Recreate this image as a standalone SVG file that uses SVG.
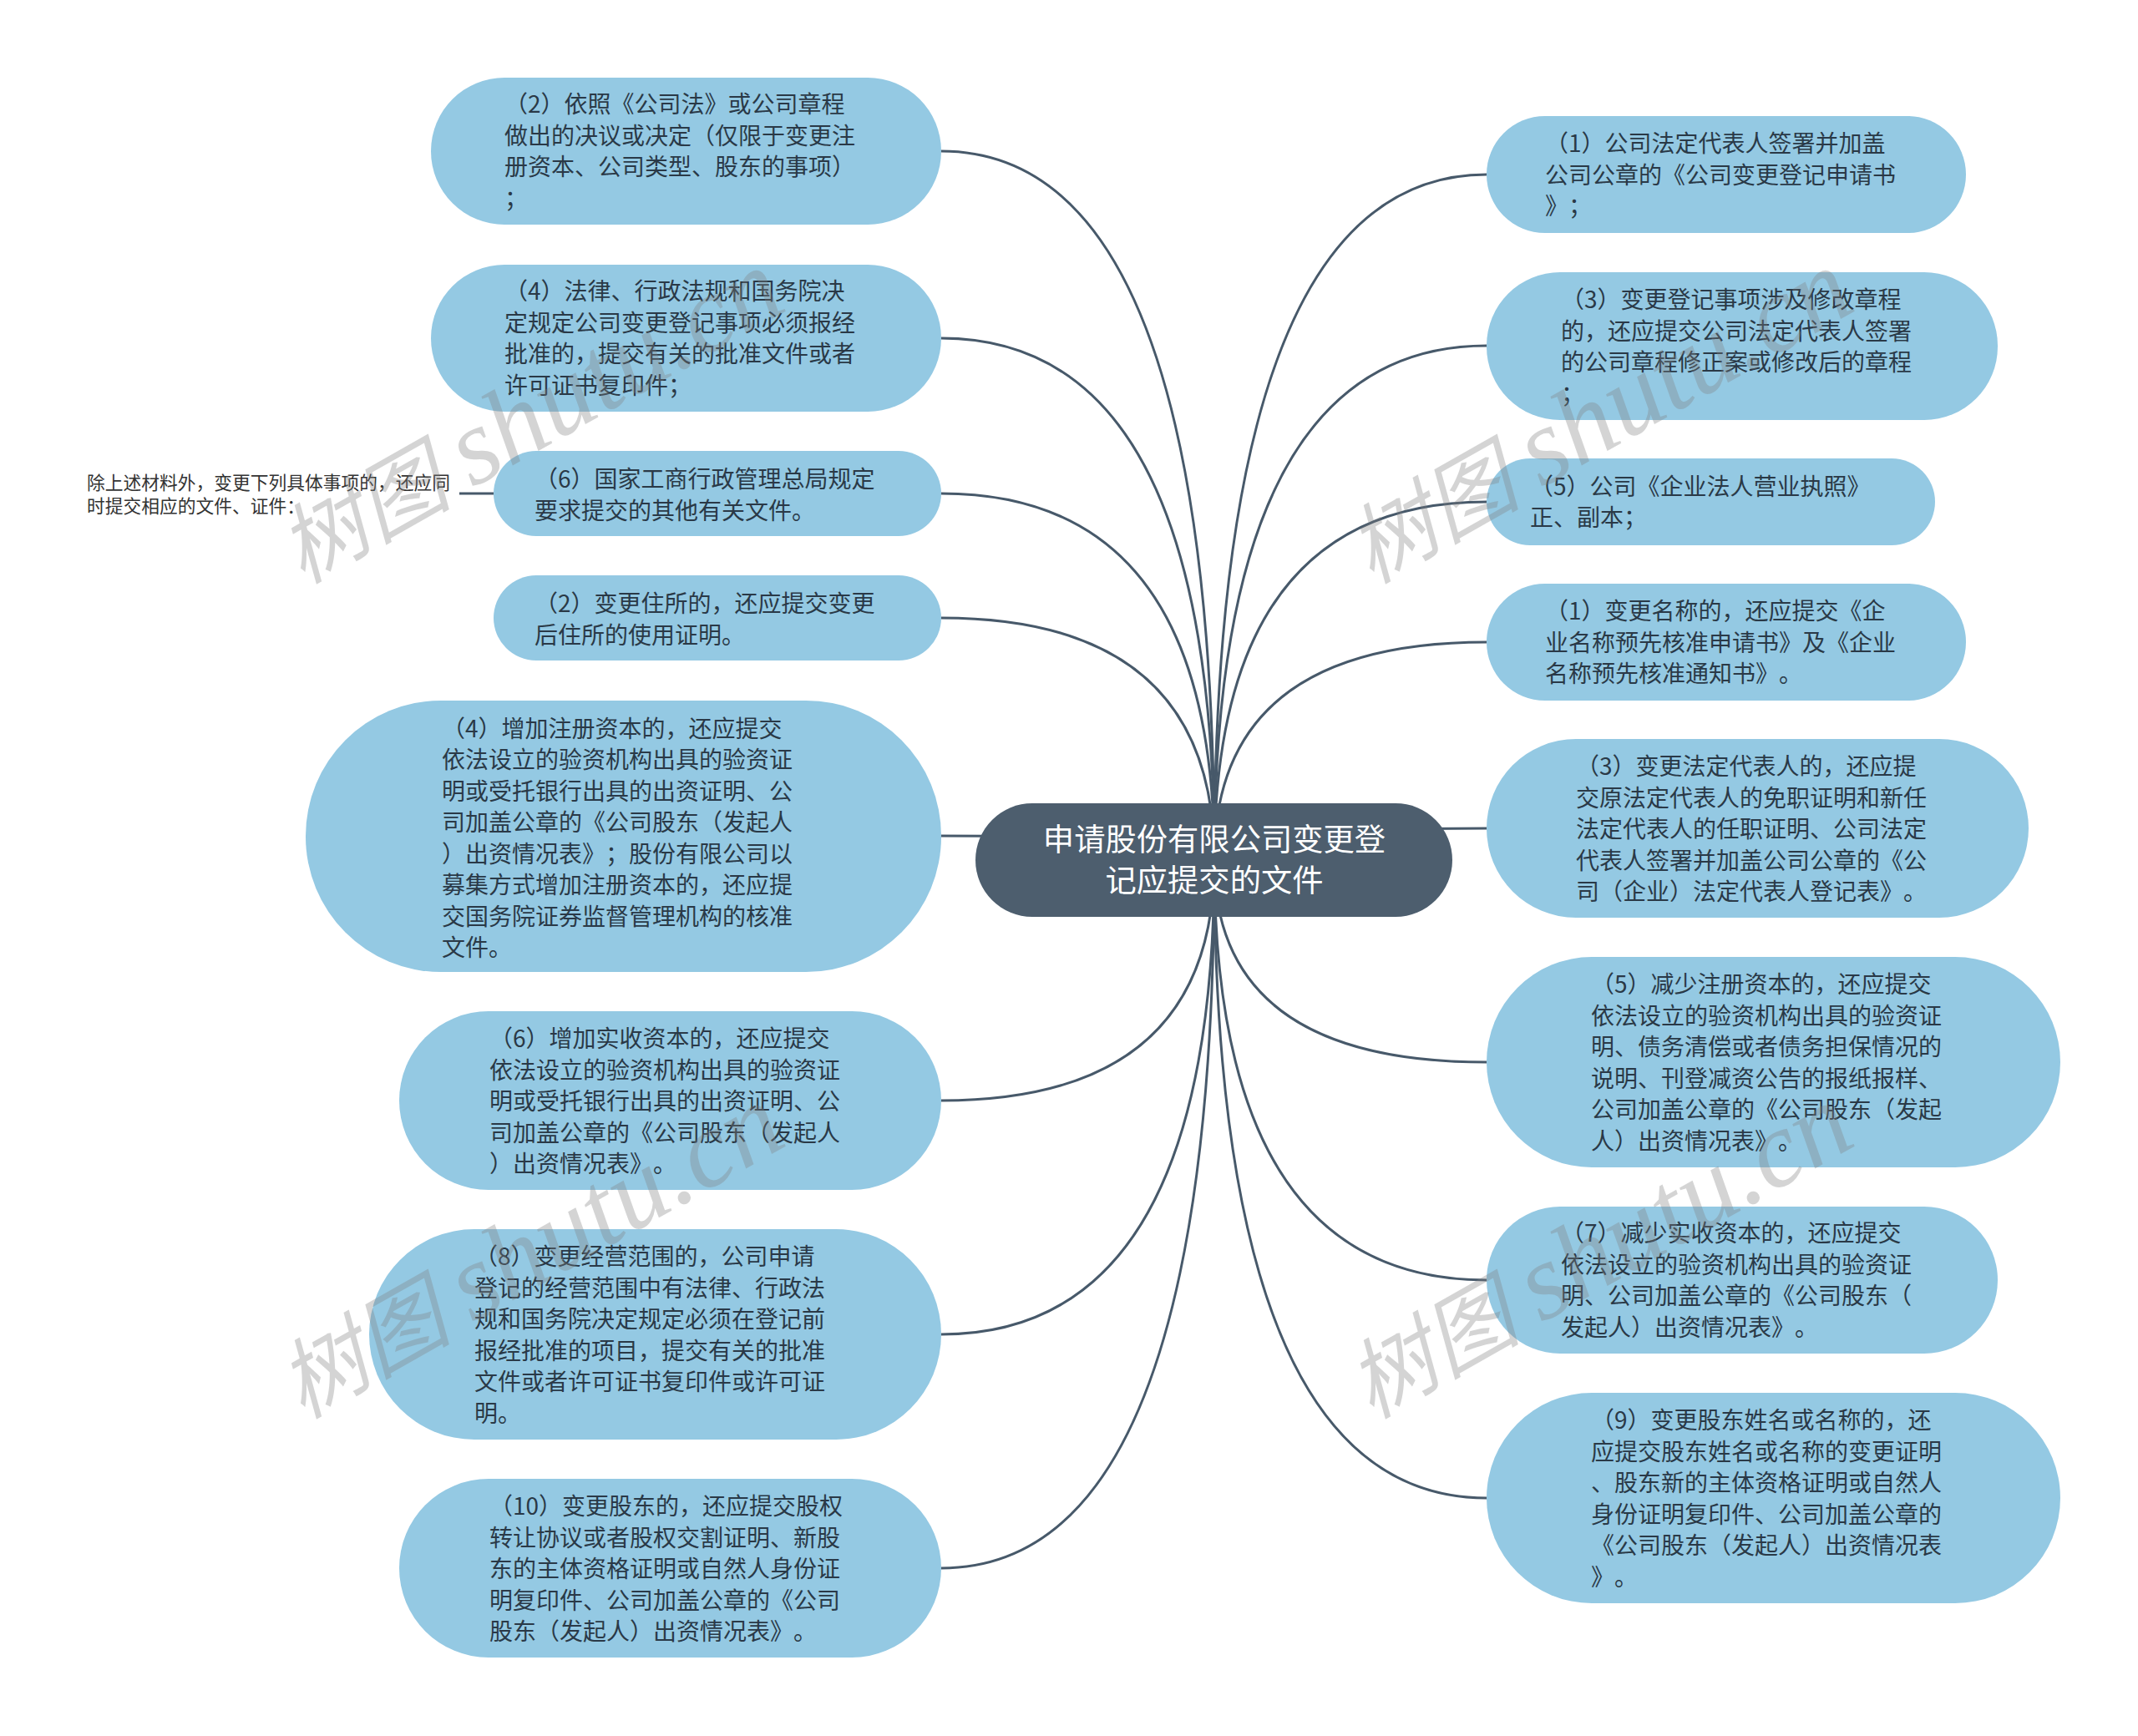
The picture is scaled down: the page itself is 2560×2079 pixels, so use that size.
<svg xmlns="http://www.w3.org/2000/svg" width="2560" height="2079" viewBox="0 0 2560 2079">
<style>
text{font-family:"Noto Sans CJK SC","Noto Sans",sans-serif;text-spacing-trim:space-all}
.n rect{fill:#94c9e3}
.n text{font-size:28px;fill:#2a3947;transform:translateY(-.5px)}
.c{fill:none;stroke:#47596a;stroke-width:3}
.w{font-family:"Liberation Serif","Noto Sans CJK SC",serif;font-style:italic;font-size:104px;fill:#808080;opacity:.33}
.w tspan{font-size:130px}
</style>
<rect width="2560" height="2079" fill="#fff"/>
<g id="connectors">
<path class="c" d="M1454 1030Q1454 181 1127 181"/>
<path class="c" d="M1454 1030Q1454 405 1127 405"/>
<path class="c" d="M1454 1030Q1454 591 1127 591"/>
<path class="c" d="M1454 1030Q1454 740 1127 740"/>
<path class="c" d="M1454 1030Q1454 1001 1127 1001"/>
<path class="c" d="M1454 1030Q1454 1318 1127 1318"/>
<path class="c" d="M1454 1030Q1454 1598 1127 1598"/>
<path class="c" d="M1454 1030Q1454 1878 1127 1878"/>
<path class="c" d="M1454 1030Q1454 209 1780 209"/>
<path class="c" d="M1454 1030Q1454 414 1780 414"/>
<path class="c" d="M1454 1030Q1454 601 1780 601"/>
<path class="c" d="M1454 1030Q1454 769 1780 769"/>
<path class="c" d="M1454 1030Q1454 992 1780 992"/>
<path class="c" d="M1454 1030Q1454 1272 1780 1272"/>
<path class="c" d="M1454 1030Q1454 1533 1780 1533"/>
<path class="c" d="M1454 1030Q1454 1794 1780 1794"/>
<path class="c" d="M550 591H591"/>
</g>
<g id="center"><rect x="1168" y="962" width="571" height="136" rx="68" fill="#4d5e6e"/>
<text x="1454" y="1019" font-size="37.3" fill="#fff" text-anchor="middle">申请股份有限公司变更登</text>
<text x="1454" y="1068" font-size="37.3" fill="#fff" text-anchor="middle">记应提交的文件</text></g>
<g id="note"><text font-size="21.75" fill="#333"><tspan x="104" y="586">除上述材料外，变更下列具体事项的，还应同</tspan><tspan x="104" y="614">时提交相应的文件、证件：</tspan></text></g>
<g id="L1" class="n"><rect x="516" y="93" width="611" height="176" rx="88"/><text><tspan x="604" y="135.500">（2）依照《公司法》或公司章程</tspan><tspan x="604" y="173">做出的决议或决定（仅限于变更注</tspan><tspan x="604" y="210.500">册资本、公司类型、股东的事项）</tspan><tspan x="604" y="248">；</tspan></text></g>
<g id="L2" class="n"><rect x="516" y="317" width="611" height="176" rx="88"/><text><tspan x="604" y="359.500">（4）法律、行政法规和国务院决</tspan><tspan x="604" y="397">定规定公司变更登记事项必须报经</tspan><tspan x="604" y="434.500">批准的，提交有关的批准文件或者</tspan><tspan x="604" y="472">许可证书复印件；</tspan></text></g>
<g id="L3" class="n"><rect x="591" y="540" width="536" height="102" rx="51"/><text><tspan x="640" y="584.500">（6）国家工商行政管理总局规定</tspan><tspan x="640" y="622">要求提交的其他有关文件。</tspan></text></g>
<g id="L4" class="n"><rect x="591" y="689" width="536" height="102" rx="51"/><text><tspan x="640" y="733.500">（2）变更住所的，还应提交变更</tspan><tspan x="640" y="771">后住所的使用证明。</tspan></text></g>
<g id="L5" class="n"><rect x="366" y="839" width="761" height="325" rx="162"/><text><tspan x="529" y="883">（4）增加注册资本的，还应提交</tspan><tspan x="529" y="920.500">依法设立的验资机构出具的验资证</tspan><tspan x="529" y="958">明或受托银行出具的出资证明、公</tspan><tspan x="529" y="995.500">司加盖公章的《公司股东（发起人</tspan><tspan x="529" y="1033">）出资情况表》；股份有限公司以</tspan><tspan x="529" y="1070.500">募集方式增加注册资本的，还应提</tspan><tspan x="529" y="1108">交国务院证券监督管理机构的核准</tspan><tspan x="529" y="1145.500">文件。</tspan></text></g>
<g id="L6" class="n"><rect x="478" y="1211" width="649" height="214" rx="107"/><text><tspan x="586" y="1254.500">（6）增加实收资本的，还应提交</tspan><tspan x="586" y="1292">依法设立的验资机构出具的验资证</tspan><tspan x="586" y="1329.500">明或受托银行出具的出资证明、公</tspan><tspan x="586" y="1367">司加盖公章的《公司股东（发起人</tspan><tspan x="586" y="1404.500">）出资情况表》。</tspan></text></g>
<g id="L7" class="n"><rect x="442" y="1472" width="685" height="252" rx="126"/><text><tspan x="568" y="1515.500">（8）变更经营范围的，公司申请</tspan><tspan x="568" y="1553">登记的经营范围中有法律、行政法</tspan><tspan x="568" y="1590.500">规和国务院决定规定必须在登记前</tspan><tspan x="568" y="1628">报经批准的项目，提交有关的批准</tspan><tspan x="568" y="1665.500">文件或者许可证书复印件或许可证</tspan><tspan x="568" y="1703">明。</tspan></text></g>
<g id="L8" class="n"><rect x="478" y="1771" width="649" height="214" rx="107"/><text><tspan x="586" y="1814.500">（10）变更股东的，还应提交股权</tspan><tspan x="586" y="1852">转让协议或者股权交割证明、新股</tspan><tspan x="586" y="1889.500">东的主体资格证明或自然人身份证</tspan><tspan x="586" y="1927">明复印件、公司加盖公章的《公司</tspan><tspan x="586" y="1964.500">股东（发起人）出资情况表》。</tspan></text></g>
<g id="R1" class="n"><rect x="1780" y="139" width="574" height="140" rx="70"/><text><tspan x="1850" y="182.500">（1）公司法定代表人签署并加盖</tspan><tspan x="1850" y="220">公司公章的《公司变更登记申请书</tspan><tspan x="1850" y="257.500">》；</tspan></text></g>
<g id="R2" class="n"><rect x="1780" y="326" width="612" height="177" rx="88"/><text><tspan x="1869" y="369.500">（3）变更登记事项涉及修改章程</tspan><tspan x="1869" y="407">的，还应提交公司法定代表人签署</tspan><tspan x="1869" y="444.500">的公司章程修正案或修改后的章程</tspan><tspan x="1869" y="482">；</tspan></text></g>
<g id="R3" class="n"><rect x="1780" y="549" width="537" height="104" rx="52"/><text><tspan x="1832" y="593">（5）公司《企业法人营业执照》</tspan><tspan x="1832" y="630.500">正、副本；</tspan></text></g>
<g id="R4" class="n"><rect x="1780" y="699" width="574" height="140" rx="70"/><text><tspan x="1850" y="742.500">（1）变更名称的，还应提交《企</tspan><tspan x="1850" y="780">业名称预先核准申请书》及《企业</tspan><tspan x="1850" y="817.500">名称预先核准通知书》。</tspan></text></g>
<g id="R5" class="n"><rect x="1780" y="885" width="649" height="214" rx="107"/><text><tspan x="1887" y="928.500">（3）变更法定代表人的，还应提</tspan><tspan x="1887" y="966">交原法定代表人的免职证明和新任</tspan><tspan x="1887" y="1003.500">法定代表人的任职证明、公司法定</tspan><tspan x="1887" y="1041">代表人签署并加盖公司公章的《公</tspan><tspan x="1887" y="1078.500">司（企业）法定代表人登记表》。</tspan></text></g>
<g id="R6" class="n"><rect x="1780" y="1146" width="687" height="252" rx="126"/><text><tspan x="1905" y="1189.500">（5）减少注册资本的，还应提交</tspan><tspan x="1905" y="1227">依法设立的验资机构出具的验资证</tspan><tspan x="1905" y="1264.500">明、债务清偿或者债务担保情况的</tspan><tspan x="1905" y="1302">说明、刊登减资公告的报纸报样、</tspan><tspan x="1905" y="1339.500">公司加盖公章的《公司股东（发起</tspan><tspan x="1905" y="1377">人）出资情况表》。</tspan></text></g>
<g id="R7" class="n"><rect x="1780" y="1445" width="612" height="176" rx="88"/><text><tspan x="1869" y="1487.500">（7）减少实收资本的，还应提交</tspan><tspan x="1869" y="1525">依法设立的验资机构出具的验资证</tspan><tspan x="1869" y="1562.500">明、公司加盖公章的《公司股东（</tspan><tspan x="1869" y="1600">发起人）出资情况表》。</tspan></text></g>
<g id="R8" class="n"><rect x="1780" y="1668" width="687" height="252" rx="126"/><text><tspan x="1905" y="1711.500">（9）变更股东姓名或名称的，还</tspan><tspan x="1905" y="1749">应提交股东姓名或名称的变更证明</tspan><tspan x="1905" y="1786.500">、股东新的主体资格证明或自然人</tspan><tspan x="1905" y="1824">身份证明复印件、公司加盖公章的</tspan><tspan x="1905" y="1861.500">《公司股东（发起人）出资情况表</tspan><tspan x="1905" y="1899">》。</tspan></text></g>
<g id="watermark">
<text class="w" transform="translate(362 700) rotate(-29.5)">树图 <tspan>shutu.cn</tspan></text>
<text class="w" transform="translate(1642 700) rotate(-29.5)">树图 <tspan>shutu.cn</tspan></text>
<text class="w" transform="translate(362 1700) rotate(-29.5)">树图 <tspan>shutu.cn</tspan></text>
<text class="w" transform="translate(1642 1700) rotate(-29.5)">树图 <tspan>shutu.cn</tspan></text>
</g>
</svg>
